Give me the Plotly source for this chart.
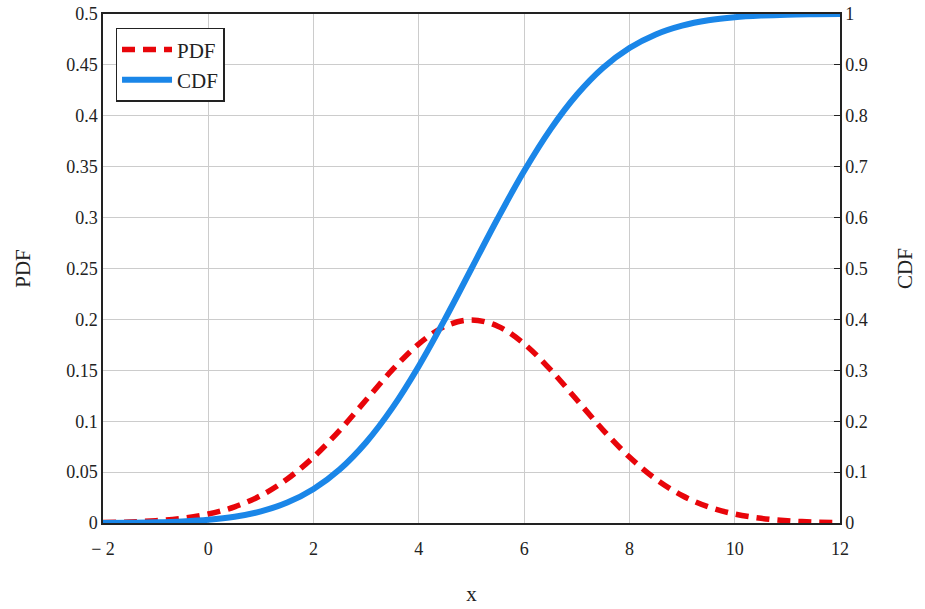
import plotly.graph_objects as go

x_vals = [-2, -1.5, -1, -0.5, 0, 0.5, 1, 1.5, 2, 2.5, 3, 3.5, 4, 4.5, 5,
          5.5, 6, 6.5, 7, 7.5, 8, 8.5, 9, 9.5, 10, 10.5, 11, 11.5, 12]
pdf_vals = [0.0004, 0.0010, 0.0022, 0.0046, 0.0088, 0.0159, 0.0270, 0.0432, 0.0648,
            0.0913, 0.1210, 0.1506, 0.1760, 0.1933, 0.1995, 0.1933, 0.1760, 0.1506,
            0.1210, 0.0913, 0.0648, 0.0432, 0.0270, 0.0159, 0.0088, 0.0046, 0.0022,
            0.0010, 0.0004]
cdf_vals = [0.0002, 0.0006, 0.0013, 0.0030, 0.0062, 0.0122, 0.0228, 0.0401, 0.0668,
            0.1056, 0.1587, 0.2266, 0.3085, 0.4013, 0.5000, 0.5987, 0.6915, 0.7734,
            0.8413, 0.8944, 0.9332, 0.9599, 0.9772, 0.9878, 0.9938, 0.9970, 0.9987,
            0.9994, 0.9998]

x_ticks = [-2, 0, 2, 4, 6, 8, 10, 12]
x_tick_text = ["\u2212 2", "0", "2", "4", "6", "8", "10", "12"]
pdf_ticks = [0, 0.05, 0.1, 0.15, 0.2, 0.25, 0.3, 0.35, 0.4, 0.45, 0.5]
cdf_ticks = [0, 0.1, 0.2, 0.3, 0.4, 0.5, 0.6, 0.7, 0.8, 0.9, 1]

FONT = "Liberation Serif"
RED = "#E8050A"
BLUE = "#1A86E8"
TICKFONT = dict(family=FONT, size=18, color="#222")

fig = go.Figure()
fig.add_trace(go.Scatter(x=x_vals, y=pdf_vals, name="PDF", mode="lines",
                         line=dict(color=RED, width=5.5, dash="13px,8px", shape="spline")))
fig.add_trace(go.Scatter(x=x_vals, y=cdf_vals, name="CDF", mode="lines", yaxis="y2",
                         line=dict(color=BLUE, width=6, shape="spline")))

fig.update_layout(
    width=925, height=609,
    margin=dict(l=103, r=85, t=14, b=86, autoexpand=False),
    plot_bgcolor="white", paper_bgcolor="white",
    font=dict(family=FONT, size=18, color="#222"),
    showlegend=True,
    legend=dict(x=0.017, y=0.973, xanchor="left", yanchor="top",
                bgcolor="white", bordercolor="#222", borderwidth=1.5,
                font=dict(family=FONT, size=21, color="#222"),
                itemwidth=50, tracegroupgap=0),
    xaxis=dict(range=[-2, 12], tickvals=x_ticks, ticktext=x_tick_text,
               tickfont=TICKFONT, automargin=False, ticklabelstandoff=9,
               showgrid=True, gridcolor="#cccccc", gridwidth=1,
               showline=True, linecolor="#222", linewidth=1.5, mirror=True,
               ticks="", zeroline=False,
               title=dict(text="x", font=dict(family=FONT, size=21), standoff=28)),
    yaxis=dict(range=[0, 0.5], tickvals=pdf_ticks,
               ticktext=[f"{v:g}" for v in pdf_ticks],
               tickfont=TICKFONT, automargin=False,
               showgrid=True, gridcolor="#cccccc", gridwidth=1,
               showline=True, linecolor="#222", linewidth=1.5,
               ticks="", zeroline=False,
               title=dict(text="PDF", font=dict(family=FONT, size=21), standoff=30)),
    yaxis2=dict(range=[0, 1], tickvals=cdf_ticks,
                ticktext=[f"{v:g}" for v in cdf_ticks],
                tickfont=TICKFONT, automargin=False,
                overlaying="y", side="right", showgrid=False,
                showline=True, linecolor="#222", linewidth=1.5,
                ticks="inside", ticklen=6, tickcolor="#222", zeroline=False,
                title=dict(text="CDF", font=dict(family=FONT, size=21), standoff=30)),
)

fig.write_html("out.html")
